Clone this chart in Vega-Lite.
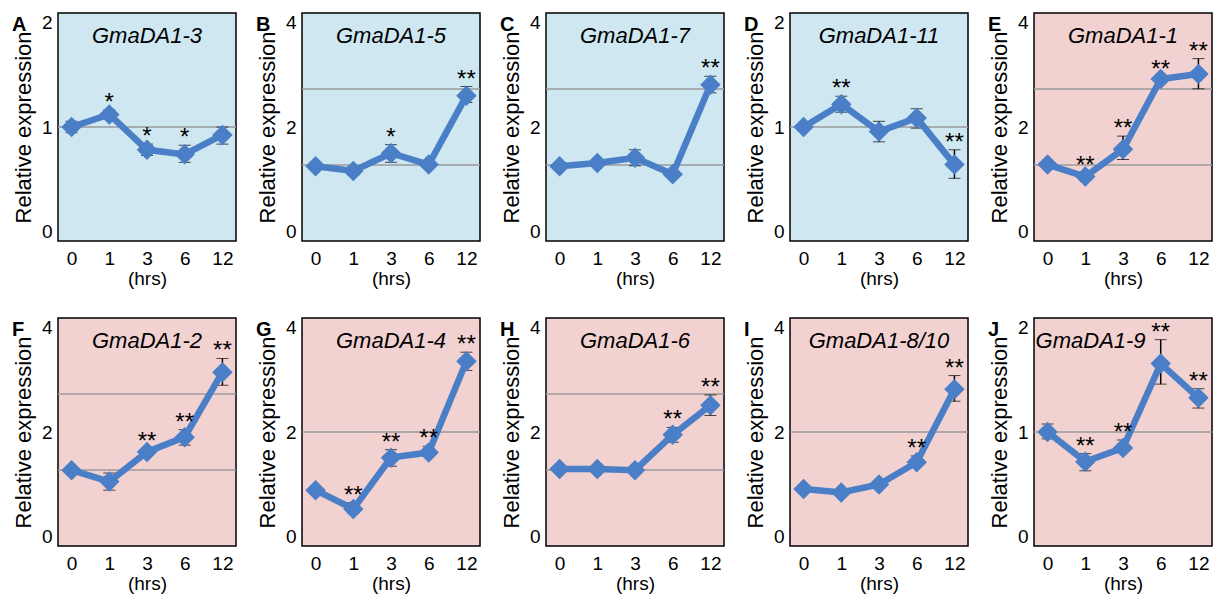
{
"$schema":"https://vega.github.io/schema/vega-lite/v6.json",
"background":"white",
"padding":{"left":11,"top":12,"right":5,"bottom":0},
"config":{
 "font":"Liberation Sans",
 "view":{"stroke":"#000","strokeWidth":1.5},
 "title":{"fontSize":20,"fontWeight":"bold","anchor":"start","frame":"bounds","offset":-20,"dy":2,"baseline":"alphabetic","color":"#000"},
 "axisY":{"labelFontSize":19,"labelColor":"#000","titleFontSize":22,"titleFontWeight":"normal","titleColor":"#000","ticks":false,"grid":false,"domain":false,"labelFlush":true,"labelOverlap":false,"labelPadding":6,"titlePadding":5,"minExtent":18,"maxExtent":18,"format":"d"},
 "axisX":{"labelFontSize":19,"labelColor":"#000","labelAngle":0,"ticks":false,"grid":false,"domain":false,"labelPadding":8,"titleFontSize":19,"titleFontWeight":"normal","titleColor":"#000","titlePadding":1}
},
"data":{"name":"all"},
"datasets":{"all":[
{"p":"A","k":"g","v":1},
{"p":"A","k":"n","t":"3","v":2,"name":"GmaDA1-3"},
{"p":"A","k":"pt","t":"0","v":1.0,"lo":0.95,"hi":1.05,"s":""},
{"p":"A","k":"pt","t":"1","v":1.11,"lo":1.07,"hi":1.15,"s":"*"},
{"p":"A","k":"pt","t":"3","v":0.80,"lo":0.75,"hi":0.85,"s":"*"},
{"p":"A","k":"pt","t":"6","v":0.76,"lo":0.69,"hi":0.84,"s":"*"},
{"p":"A","k":"pt","t":"12","v":0.93,"lo":0.85,"hi":1.0,"s":""},
{"p":"B","k":"g","v":1.333},{"p":"B","k":"g","v":2.667},
{"p":"B","k":"n","t":"3","v":4,"name":"GmaDA1-5"},
{"p":"B","k":"pt","t":"0","v":1.31,"lo":1.28,"hi":1.34,"s":""},
{"p":"B","k":"pt","t":"1","v":1.23,"lo":1.16,"hi":1.30,"s":""},
{"p":"B","k":"pt","t":"3","v":1.54,"lo":1.38,"hi":1.69,"s":"*"},
{"p":"B","k":"pt","t":"6","v":1.34,"lo":1.31,"hi":1.37,"s":""},
{"p":"B","k":"pt","t":"12","v":2.55,"lo":2.43,"hi":2.71,"s":"**"},
{"p":"C","k":"g","v":1.333},{"p":"C","k":"g","v":2.667},
{"p":"C","k":"n","t":"3","v":4,"name":"GmaDA1-7"},
{"p":"C","k":"pt","t":"0","v":1.31,"lo":1.28,"hi":1.34,"s":""},
{"p":"C","k":"pt","t":"1","v":1.37,"lo":1.34,"hi":1.40,"s":""},
{"p":"C","k":"pt","t":"3","v":1.46,"lo":1.32,"hi":1.60,"s":""},
{"p":"C","k":"pt","t":"6","v":1.17,"lo":1.14,"hi":1.20,"s":""},
{"p":"C","k":"pt","t":"12","v":2.74,"lo":2.60,"hi":2.89,"s":"**"},
{"p":"D","k":"g","v":1},
{"p":"D","k":"n","t":"3","v":2,"name":"GmaDA1-11"},
{"p":"D","k":"pt","t":"0","v":1.0,"lo":0.97,"hi":1.03,"s":""},
{"p":"D","k":"pt","t":"1","v":1.2,"lo":1.13,"hi":1.27,"s":"**"},
{"p":"D","k":"pt","t":"3","v":0.96,"lo":0.87,"hi":1.05,"s":""},
{"p":"D","k":"pt","t":"6","v":1.08,"lo":0.99,"hi":1.16,"s":""},
{"p":"D","k":"pt","t":"12","v":0.67,"lo":0.55,"hi":0.80,"s":"**"},
{"p":"E","k":"g","v":1.333},{"p":"E","k":"g","v":2.667},
{"p":"E","k":"n","t":"3","v":4,"name":"GmaDA1-1"},
{"p":"E","k":"pt","t":"0","v":1.34,"lo":1.31,"hi":1.37,"s":""},
{"p":"E","k":"pt","t":"1","v":1.13,"lo":1.06,"hi":1.20,"s":"**"},
{"p":"E","k":"pt","t":"3","v":1.61,"lo":1.43,"hi":1.84,"s":"**"},
{"p":"E","k":"pt","t":"6","v":2.84,"lo":2.80,"hi":2.88,"s":"**"},
{"p":"E","k":"pt","t":"12","v":2.93,"lo":2.67,"hi":3.20,"s":"**"},
{"p":"F","k":"g","v":1.333},{"p":"F","k":"g","v":2.667},
{"p":"F","k":"n","t":"3","v":4,"name":"GmaDA1-2"},
{"p":"F","k":"pt","t":"0","v":1.33,"lo":1.30,"hi":1.36,"s":""},
{"p":"F","k":"pt","t":"1","v":1.13,"lo":0.98,"hi":1.28,"s":""},
{"p":"F","k":"pt","t":"3","v":1.65,"lo":1.60,"hi":1.70,"s":"**"},
{"p":"F","k":"pt","t":"6","v":1.91,"lo":1.77,"hi":2.04,"s":"**"},
{"p":"F","k":"pt","t":"12","v":3.05,"lo":2.82,"hi":3.29,"s":"**"},
{"p":"G","k":"g","v":2},
{"p":"G","k":"n","t":"3","v":4,"name":"GmaDA1-4"},
{"p":"G","k":"pt","t":"0","v":0.98,"lo":0.95,"hi":1.01,"s":""},
{"p":"G","k":"pt","t":"1","v":0.65,"lo":0.58,"hi":0.76,"s":"**"},
{"p":"G","k":"pt","t":"3","v":1.55,"lo":1.40,"hi":1.69,"s":"**"},
{"p":"G","k":"pt","t":"6","v":1.64,"lo":1.58,"hi":1.75,"s":"**"},
{"p":"G","k":"pt","t":"12","v":3.24,"lo":3.08,"hi":3.40,"s":"**"},
{"p":"H","k":"g","v":1.333},{"p":"H","k":"g","v":2.667},
{"p":"H","k":"n","t":"3","v":4,"name":"GmaDA1-6"},
{"p":"H","k":"pt","t":"0","v":1.35,"lo":1.32,"hi":1.38,"s":""},
{"p":"H","k":"pt","t":"1","v":1.35,"lo":1.32,"hi":1.38,"s":""},
{"p":"H","k":"pt","t":"3","v":1.33,"lo":1.30,"hi":1.36,"s":""},
{"p":"H","k":"pt","t":"6","v":1.95,"lo":1.82,"hi":2.08,"s":"**"},
{"p":"H","k":"pt","t":"12","v":2.47,"lo":2.29,"hi":2.65,"s":"**"},
{"p":"I","k":"g","v":2},
{"p":"I","k":"n","t":"3","v":4,"name":"GmaDA1-8/10"},
{"p":"I","k":"pt","t":"0","v":1.0,"lo":0.97,"hi":1.03,"s":""},
{"p":"I","k":"pt","t":"1","v":0.94,"lo":0.91,"hi":0.97,"s":""},
{"p":"I","k":"pt","t":"3","v":1.08,"lo":1.05,"hi":1.11,"s":""},
{"p":"I","k":"pt","t":"6","v":1.47,"lo":1.43,"hi":1.58,"s":"**"},
{"p":"I","k":"pt","t":"12","v":2.75,"lo":2.54,"hi":2.99,"s":"**"},
{"p":"J","k":"g","v":1},
{"p":"J","k":"n","t":"0","v":2,"name":"GmaDA1-9"},
{"p":"J","k":"pt","t":"0","v":1.0,"lo":0.94,"hi":1.07,"s":""},
{"p":"J","k":"pt","t":"1","v":0.74,"lo":0.66,"hi":0.81,"s":"**"},
{"p":"J","k":"pt","t":"3","v":0.86,"lo":0.83,"hi":0.93,"s":"**"},
{"p":"J","k":"pt","t":"6","v":1.6,"lo":1.42,"hi":1.81,"s":"**"},
{"p":"J","k":"pt","t":"12","v":1.3,"lo":1.21,"hi":1.38,"s":"**"}
]},
"columns":5,
"spacing":{"row":28,"column":17},
"concat":[
{"title":"A","width":178,"height":228,"view":{"fill":"#cfe7f1"},"transform":[{"filter":"datum.p==='A'"}],"layer":[
 {"transform":[{"filter":"datum.k==='g'"}],"mark":{"type":"rule","color":"#9a9a9a","strokeWidth":1.5},"encoding":{"y":{"field":"v","type":"quantitative","title":"Relative expression","scale":{"domain":[0,2]},"axis":{"values":[0,1,2],"format":"d","tickCount":10,"tickMinStep":0.5}}}},
 {"transform":[{"filter":"datum.k==='pt'"}],"mark":{"type":"errorbar","color":"#000","ticks":{"size":12},"rule":{"strokeWidth":1.5}},"encoding":{"x":{"field":"t","type":"ordinal","scale":{"type":"point","padding":0.36,"domain":["0","1","3","6","12"]},"title":"(hrs)"},"y":{"field":"lo","type":"quantitative","title":"Relative expression"},"y2":{"field":"hi"}}},
 {"transform":[{"filter":"datum.k==='pt'"}],"mark":{"type":"line","color":"#4a7fc8","strokeWidth":6.5},"encoding":{"x":{"field":"t","type":"ordinal","title":"(hrs)"},"y":{"field":"v","type":"quantitative","title":"Relative expression"}}},
 {"transform":[{"filter":"datum.k==='pt'"}],"mark":{"type":"point","shape":"diamond","filled":true,"size":420,"color":"#4a7fc8","opacity":1},"encoding":{"x":{"field":"t","type":"ordinal","title":"(hrs)"},"y":{"field":"v","type":"quantitative","title":"Relative expression"}}},
 {"transform":[{"filter":"datum.k==='pt'"}],"mark":{"type":"text","fontSize":24,"baseline":"alphabetic","color":"#000"},"encoding":{"x":{"field":"t","type":"ordinal","title":"(hrs)"},"y":{"field":"hi","type":"quantitative","title":"Relative expression"},"text":{"field":"s"}}},
 {"transform":[{"filter":"datum.k==='n'"}],"mark":{"type":"text","fontSize":22,"fontStyle":"italic","baseline":"top","dy":13,"color":"#000"},"encoding":{"x":{"field":"t","type":"ordinal","title":"(hrs)"},"y":{"field":"v","type":"quantitative","title":"Relative expression"},"text":{"field":"name"}}}
]},
{"title":"B","width":178,"height":228,"view":{"fill":"#cfe7f1"},"transform":[{"filter":"datum.p==='B'"}],"layer":[
 {"transform":[{"filter":"datum.k==='g'"}],"mark":{"type":"rule","color":"#9a9a9a","strokeWidth":1.5},"encoding":{"y":{"field":"v","type":"quantitative","title":"Relative expression","scale":{"domain":[0,4]},"axis":{"values":[0,2,4],"format":"d"}}}},
 {"transform":[{"filter":"datum.k==='pt'"}],"mark":{"type":"errorbar","color":"#000","ticks":{"size":12},"rule":{"strokeWidth":1.5}},"encoding":{"x":{"field":"t","type":"ordinal","scale":{"type":"point","padding":0.36,"domain":["0","1","3","6","12"]},"title":"(hrs)"},"y":{"field":"lo","type":"quantitative","title":"Relative expression"},"y2":{"field":"hi"}}},
 {"transform":[{"filter":"datum.k==='pt'"}],"mark":{"type":"line","color":"#4a7fc8","strokeWidth":6.5},"encoding":{"x":{"field":"t","type":"ordinal","title":"(hrs)"},"y":{"field":"v","type":"quantitative","title":"Relative expression"}}},
 {"transform":[{"filter":"datum.k==='pt'"}],"mark":{"type":"point","shape":"diamond","filled":true,"size":420,"color":"#4a7fc8","opacity":1},"encoding":{"x":{"field":"t","type":"ordinal","title":"(hrs)"},"y":{"field":"v","type":"quantitative","title":"Relative expression"}}},
 {"transform":[{"filter":"datum.k==='pt'"}],"mark":{"type":"text","fontSize":24,"baseline":"alphabetic","color":"#000"},"encoding":{"x":{"field":"t","type":"ordinal","title":"(hrs)"},"y":{"field":"hi","type":"quantitative","title":"Relative expression"},"text":{"field":"s"}}},
 {"transform":[{"filter":"datum.k==='n'"}],"mark":{"type":"text","fontSize":22,"fontStyle":"italic","baseline":"top","dy":13,"color":"#000"},"encoding":{"x":{"field":"t","type":"ordinal","title":"(hrs)"},"y":{"field":"v","type":"quantitative","title":"Relative expression"},"text":{"field":"name"}}}
]},
{"title":"C","width":178,"height":228,"view":{"fill":"#cfe7f1"},"transform":[{"filter":"datum.p==='C'"}],"layer":[
 {"transform":[{"filter":"datum.k==='g'"}],"mark":{"type":"rule","color":"#9a9a9a","strokeWidth":1.5},"encoding":{"y":{"field":"v","type":"quantitative","title":"Relative expression","scale":{"domain":[0,4]},"axis":{"values":[0,2,4],"format":"d"}}}},
 {"transform":[{"filter":"datum.k==='pt'"}],"mark":{"type":"errorbar","color":"#000","ticks":{"size":12},"rule":{"strokeWidth":1.5}},"encoding":{"x":{"field":"t","type":"ordinal","scale":{"type":"point","padding":0.36,"domain":["0","1","3","6","12"]},"title":"(hrs)"},"y":{"field":"lo","type":"quantitative","title":"Relative expression"},"y2":{"field":"hi"}}},
 {"transform":[{"filter":"datum.k==='pt'"}],"mark":{"type":"line","color":"#4a7fc8","strokeWidth":6.5},"encoding":{"x":{"field":"t","type":"ordinal","title":"(hrs)"},"y":{"field":"v","type":"quantitative","title":"Relative expression"}}},
 {"transform":[{"filter":"datum.k==='pt'"}],"mark":{"type":"point","shape":"diamond","filled":true,"size":420,"color":"#4a7fc8","opacity":1},"encoding":{"x":{"field":"t","type":"ordinal","title":"(hrs)"},"y":{"field":"v","type":"quantitative","title":"Relative expression"}}},
 {"transform":[{"filter":"datum.k==='pt'"}],"mark":{"type":"text","fontSize":24,"baseline":"alphabetic","color":"#000"},"encoding":{"x":{"field":"t","type":"ordinal","title":"(hrs)"},"y":{"field":"hi","type":"quantitative","title":"Relative expression"},"text":{"field":"s"}}},
 {"transform":[{"filter":"datum.k==='n'"}],"mark":{"type":"text","fontSize":22,"fontStyle":"italic","baseline":"top","dy":13,"color":"#000"},"encoding":{"x":{"field":"t","type":"ordinal","title":"(hrs)"},"y":{"field":"v","type":"quantitative","title":"Relative expression"},"text":{"field":"name"}}}
]},
{"title":"D","width":178,"height":228,"view":{"fill":"#cfe7f1"},"transform":[{"filter":"datum.p==='D'"}],"layer":[
 {"transform":[{"filter":"datum.k==='g'"}],"mark":{"type":"rule","color":"#9a9a9a","strokeWidth":1.5},"encoding":{"y":{"field":"v","type":"quantitative","title":"Relative expression","scale":{"domain":[0,2]},"axis":{"values":[0,1,2],"format":"d","tickCount":10,"tickMinStep":0.5}}}},
 {"transform":[{"filter":"datum.k==='pt'"}],"mark":{"type":"errorbar","color":"#000","ticks":{"size":12},"rule":{"strokeWidth":1.5}},"encoding":{"x":{"field":"t","type":"ordinal","scale":{"type":"point","padding":0.36,"domain":["0","1","3","6","12"]},"title":"(hrs)"},"y":{"field":"lo","type":"quantitative","title":"Relative expression"},"y2":{"field":"hi"}}},
 {"transform":[{"filter":"datum.k==='pt'"}],"mark":{"type":"line","color":"#4a7fc8","strokeWidth":6.5},"encoding":{"x":{"field":"t","type":"ordinal","title":"(hrs)"},"y":{"field":"v","type":"quantitative","title":"Relative expression"}}},
 {"transform":[{"filter":"datum.k==='pt'"}],"mark":{"type":"point","shape":"diamond","filled":true,"size":420,"color":"#4a7fc8","opacity":1},"encoding":{"x":{"field":"t","type":"ordinal","title":"(hrs)"},"y":{"field":"v","type":"quantitative","title":"Relative expression"}}},
 {"transform":[{"filter":"datum.k==='pt'"}],"mark":{"type":"text","fontSize":24,"baseline":"alphabetic","color":"#000"},"encoding":{"x":{"field":"t","type":"ordinal","title":"(hrs)"},"y":{"field":"hi","type":"quantitative","title":"Relative expression"},"text":{"field":"s"}}},
 {"transform":[{"filter":"datum.k==='n'"}],"mark":{"type":"text","fontSize":22,"fontStyle":"italic","baseline":"top","dy":13,"color":"#000"},"encoding":{"x":{"field":"t","type":"ordinal","title":"(hrs)"},"y":{"field":"v","type":"quantitative","title":"Relative expression"},"text":{"field":"name"}}}
]},
{"title":"E","width":178,"height":228,"view":{"fill":"#f2d1d1"},"transform":[{"filter":"datum.p==='E'"}],"layer":[
 {"transform":[{"filter":"datum.k==='g'"}],"mark":{"type":"rule","color":"#9a9a9a","strokeWidth":1.5},"encoding":{"y":{"field":"v","type":"quantitative","title":"Relative expression","scale":{"domain":[0,4]},"axis":{"values":[0,2,4],"format":"d"}}}},
 {"transform":[{"filter":"datum.k==='pt'"}],"mark":{"type":"errorbar","color":"#000","ticks":{"size":12},"rule":{"strokeWidth":1.5}},"encoding":{"x":{"field":"t","type":"ordinal","scale":{"type":"point","padding":0.36,"domain":["0","1","3","6","12"]},"title":"(hrs)"},"y":{"field":"lo","type":"quantitative","title":"Relative expression"},"y2":{"field":"hi"}}},
 {"transform":[{"filter":"datum.k==='pt'"}],"mark":{"type":"line","color":"#4a7fc8","strokeWidth":6.5},"encoding":{"x":{"field":"t","type":"ordinal","title":"(hrs)"},"y":{"field":"v","type":"quantitative","title":"Relative expression"}}},
 {"transform":[{"filter":"datum.k==='pt'"}],"mark":{"type":"point","shape":"diamond","filled":true,"size":420,"color":"#4a7fc8","opacity":1},"encoding":{"x":{"field":"t","type":"ordinal","title":"(hrs)"},"y":{"field":"v","type":"quantitative","title":"Relative expression"}}},
 {"transform":[{"filter":"datum.k==='pt'"}],"mark":{"type":"text","fontSize":24,"baseline":"alphabetic","color":"#000"},"encoding":{"x":{"field":"t","type":"ordinal","title":"(hrs)"},"y":{"field":"hi","type":"quantitative","title":"Relative expression"},"text":{"field":"s"}}},
 {"transform":[{"filter":"datum.k==='n'"}],"mark":{"type":"text","fontSize":22,"fontStyle":"italic","baseline":"top","dy":13,"color":"#000"},"encoding":{"x":{"field":"t","type":"ordinal","title":"(hrs)"},"y":{"field":"v","type":"quantitative","title":"Relative expression"},"text":{"field":"name"}}}
]},
{"title":"F","width":178,"height":228,"view":{"fill":"#f2d1d1"},"transform":[{"filter":"datum.p==='F'"}],"layer":[
 {"transform":[{"filter":"datum.k==='g'"}],"mark":{"type":"rule","color":"#9a9a9a","strokeWidth":1.5},"encoding":{"y":{"field":"v","type":"quantitative","title":"Relative expression","scale":{"domain":[0,4]},"axis":{"values":[0,2,4],"format":"d"}}}},
 {"transform":[{"filter":"datum.k==='pt'"}],"mark":{"type":"errorbar","color":"#000","ticks":{"size":12},"rule":{"strokeWidth":1.5}},"encoding":{"x":{"field":"t","type":"ordinal","scale":{"type":"point","padding":0.36,"domain":["0","1","3","6","12"]},"title":"(hrs)"},"y":{"field":"lo","type":"quantitative","title":"Relative expression"},"y2":{"field":"hi"}}},
 {"transform":[{"filter":"datum.k==='pt'"}],"mark":{"type":"line","color":"#4a7fc8","strokeWidth":6.5},"encoding":{"x":{"field":"t","type":"ordinal","title":"(hrs)"},"y":{"field":"v","type":"quantitative","title":"Relative expression"}}},
 {"transform":[{"filter":"datum.k==='pt'"}],"mark":{"type":"point","shape":"diamond","filled":true,"size":420,"color":"#4a7fc8","opacity":1},"encoding":{"x":{"field":"t","type":"ordinal","title":"(hrs)"},"y":{"field":"v","type":"quantitative","title":"Relative expression"}}},
 {"transform":[{"filter":"datum.k==='pt'"}],"mark":{"type":"text","fontSize":24,"baseline":"alphabetic","color":"#000"},"encoding":{"x":{"field":"t","type":"ordinal","title":"(hrs)"},"y":{"field":"hi","type":"quantitative","title":"Relative expression"},"text":{"field":"s"}}},
 {"transform":[{"filter":"datum.k==='n'"}],"mark":{"type":"text","fontSize":22,"fontStyle":"italic","baseline":"top","dy":13,"color":"#000"},"encoding":{"x":{"field":"t","type":"ordinal","title":"(hrs)"},"y":{"field":"v","type":"quantitative","title":"Relative expression"},"text":{"field":"name"}}}
]},
{"title":"G","width":178,"height":228,"view":{"fill":"#f2d1d1"},"transform":[{"filter":"datum.p==='G'"}],"layer":[
 {"transform":[{"filter":"datum.k==='g'"}],"mark":{"type":"rule","color":"#9a9a9a","strokeWidth":1.5},"encoding":{"y":{"field":"v","type":"quantitative","title":"Relative expression","scale":{"domain":[0,4]},"axis":{"values":[0,2,4],"format":"d"}}}},
 {"transform":[{"filter":"datum.k==='pt'"}],"mark":{"type":"errorbar","color":"#000","ticks":{"size":12},"rule":{"strokeWidth":1.5}},"encoding":{"x":{"field":"t","type":"ordinal","scale":{"type":"point","padding":0.36,"domain":["0","1","3","6","12"]},"title":"(hrs)"},"y":{"field":"lo","type":"quantitative","title":"Relative expression"},"y2":{"field":"hi"}}},
 {"transform":[{"filter":"datum.k==='pt'"}],"mark":{"type":"line","color":"#4a7fc8","strokeWidth":6.5},"encoding":{"x":{"field":"t","type":"ordinal","title":"(hrs)"},"y":{"field":"v","type":"quantitative","title":"Relative expression"}}},
 {"transform":[{"filter":"datum.k==='pt'"}],"mark":{"type":"point","shape":"diamond","filled":true,"size":420,"color":"#4a7fc8","opacity":1},"encoding":{"x":{"field":"t","type":"ordinal","title":"(hrs)"},"y":{"field":"v","type":"quantitative","title":"Relative expression"}}},
 {"transform":[{"filter":"datum.k==='pt'"}],"mark":{"type":"text","fontSize":24,"baseline":"alphabetic","color":"#000"},"encoding":{"x":{"field":"t","type":"ordinal","title":"(hrs)"},"y":{"field":"hi","type":"quantitative","title":"Relative expression"},"text":{"field":"s"}}},
 {"transform":[{"filter":"datum.k==='n'"}],"mark":{"type":"text","fontSize":22,"fontStyle":"italic","baseline":"top","dy":13,"color":"#000"},"encoding":{"x":{"field":"t","type":"ordinal","title":"(hrs)"},"y":{"field":"v","type":"quantitative","title":"Relative expression"},"text":{"field":"name"}}}
]},
{"title":"H","width":178,"height":228,"view":{"fill":"#f2d1d1"},"transform":[{"filter":"datum.p==='H'"}],"layer":[
 {"transform":[{"filter":"datum.k==='g'"}],"mark":{"type":"rule","color":"#9a9a9a","strokeWidth":1.5},"encoding":{"y":{"field":"v","type":"quantitative","title":"Relative expression","scale":{"domain":[0,4]},"axis":{"values":[0,2,4],"format":"d"}}}},
 {"transform":[{"filter":"datum.k==='pt'"}],"mark":{"type":"errorbar","color":"#000","ticks":{"size":12},"rule":{"strokeWidth":1.5}},"encoding":{"x":{"field":"t","type":"ordinal","scale":{"type":"point","padding":0.36,"domain":["0","1","3","6","12"]},"title":"(hrs)"},"y":{"field":"lo","type":"quantitative","title":"Relative expression"},"y2":{"field":"hi"}}},
 {"transform":[{"filter":"datum.k==='pt'"}],"mark":{"type":"line","color":"#4a7fc8","strokeWidth":6.5},"encoding":{"x":{"field":"t","type":"ordinal","title":"(hrs)"},"y":{"field":"v","type":"quantitative","title":"Relative expression"}}},
 {"transform":[{"filter":"datum.k==='pt'"}],"mark":{"type":"point","shape":"diamond","filled":true,"size":420,"color":"#4a7fc8","opacity":1},"encoding":{"x":{"field":"t","type":"ordinal","title":"(hrs)"},"y":{"field":"v","type":"quantitative","title":"Relative expression"}}},
 {"transform":[{"filter":"datum.k==='pt'"}],"mark":{"type":"text","fontSize":24,"baseline":"alphabetic","color":"#000"},"encoding":{"x":{"field":"t","type":"ordinal","title":"(hrs)"},"y":{"field":"hi","type":"quantitative","title":"Relative expression"},"text":{"field":"s"}}},
 {"transform":[{"filter":"datum.k==='n'"}],"mark":{"type":"text","fontSize":22,"fontStyle":"italic","baseline":"top","dy":13,"color":"#000"},"encoding":{"x":{"field":"t","type":"ordinal","title":"(hrs)"},"y":{"field":"v","type":"quantitative","title":"Relative expression"},"text":{"field":"name"}}}
]},
{"title":"I","width":178,"height":228,"view":{"fill":"#f2d1d1"},"transform":[{"filter":"datum.p==='I'"}],"layer":[
 {"transform":[{"filter":"datum.k==='g'"}],"mark":{"type":"rule","color":"#9a9a9a","strokeWidth":1.5},"encoding":{"y":{"field":"v","type":"quantitative","title":"Relative expression","scale":{"domain":[0,4]},"axis":{"values":[0,2,4],"format":"d"}}}},
 {"transform":[{"filter":"datum.k==='pt'"}],"mark":{"type":"errorbar","color":"#000","ticks":{"size":12},"rule":{"strokeWidth":1.5}},"encoding":{"x":{"field":"t","type":"ordinal","scale":{"type":"point","padding":0.36,"domain":["0","1","3","6","12"]},"title":"(hrs)"},"y":{"field":"lo","type":"quantitative","title":"Relative expression"},"y2":{"field":"hi"}}},
 {"transform":[{"filter":"datum.k==='pt'"}],"mark":{"type":"line","color":"#4a7fc8","strokeWidth":6.5},"encoding":{"x":{"field":"t","type":"ordinal","title":"(hrs)"},"y":{"field":"v","type":"quantitative","title":"Relative expression"}}},
 {"transform":[{"filter":"datum.k==='pt'"}],"mark":{"type":"point","shape":"diamond","filled":true,"size":420,"color":"#4a7fc8","opacity":1},"encoding":{"x":{"field":"t","type":"ordinal","title":"(hrs)"},"y":{"field":"v","type":"quantitative","title":"Relative expression"}}},
 {"transform":[{"filter":"datum.k==='pt'"}],"mark":{"type":"text","fontSize":24,"baseline":"alphabetic","color":"#000"},"encoding":{"x":{"field":"t","type":"ordinal","title":"(hrs)"},"y":{"field":"hi","type":"quantitative","title":"Relative expression"},"text":{"field":"s"}}},
 {"transform":[{"filter":"datum.k==='n'"}],"mark":{"type":"text","fontSize":22,"fontStyle":"italic","baseline":"top","dy":13,"color":"#000"},"encoding":{"x":{"field":"t","type":"ordinal","title":"(hrs)"},"y":{"field":"v","type":"quantitative","title":"Relative expression"},"text":{"field":"name"}}}
]},
{"title":"J","width":178,"height":228,"view":{"fill":"#f2d1d1"},"transform":[{"filter":"datum.p==='J'"}],"layer":[
 {"transform":[{"filter":"datum.k==='g'"}],"mark":{"type":"rule","color":"#9a9a9a","strokeWidth":1.5},"encoding":{"y":{"field":"v","type":"quantitative","title":"Relative expression","scale":{"domain":[0,2]},"axis":{"values":[0,1,2],"format":"d","tickCount":10,"tickMinStep":0.5}}}},
 {"transform":[{"filter":"datum.k==='pt'"}],"mark":{"type":"errorbar","color":"#000","ticks":{"size":12},"rule":{"strokeWidth":1.5}},"encoding":{"x":{"field":"t","type":"ordinal","scale":{"type":"point","padding":0.36,"domain":["0","1","3","6","12"]},"title":"(hrs)"},"y":{"field":"lo","type":"quantitative","title":"Relative expression"},"y2":{"field":"hi"}}},
 {"transform":[{"filter":"datum.k==='pt'"}],"mark":{"type":"line","color":"#4a7fc8","strokeWidth":6.5},"encoding":{"x":{"field":"t","type":"ordinal","title":"(hrs)"},"y":{"field":"v","type":"quantitative","title":"Relative expression"}}},
 {"transform":[{"filter":"datum.k==='pt'"}],"mark":{"type":"point","shape":"diamond","filled":true,"size":420,"color":"#4a7fc8","opacity":1},"encoding":{"x":{"field":"t","type":"ordinal","title":"(hrs)"},"y":{"field":"v","type":"quantitative","title":"Relative expression"}}},
 {"transform":[{"filter":"datum.k==='pt'"}],"mark":{"type":"text","fontSize":24,"baseline":"alphabetic","color":"#000"},"encoding":{"x":{"field":"t","type":"ordinal","title":"(hrs)"},"y":{"field":"hi","type":"quantitative","title":"Relative expression"},"text":{"field":"s"}}},
 {"transform":[{"filter":"datum.k==='n'"}],"mark":{"type":"text","fontSize":22,"fontStyle":"italic","baseline":"top","dy":13,"align":"left","dx":-12,"color":"#000"},"encoding":{"x":{"field":"t","type":"ordinal","title":"(hrs)"},"y":{"field":"v","type":"quantitative","title":"Relative expression"},"text":{"field":"name"}}}
]}
]
}
